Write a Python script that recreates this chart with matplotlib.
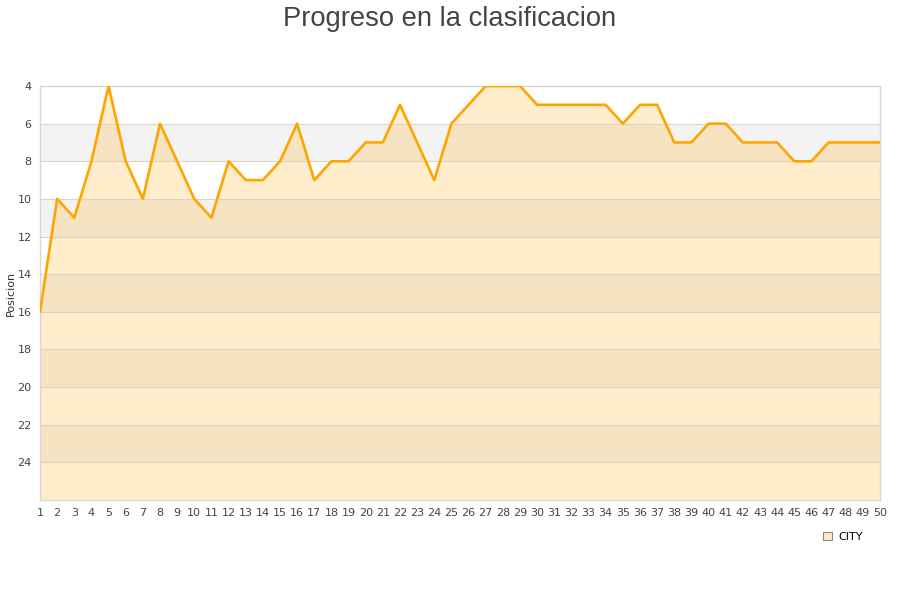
import matplotlib.pyplot as plt
import numpy as np

jornadas = list(range(1, 51))
posiciones = [16, 10, 11, 8, 4, 8, 10, 6, 8, 10,
              11, 8, 9, 9, 8, 6, 9, 8, 8, 7,
              7, 5, 7, 9, 6, 5, 4, 4, 4, 5,
              5, 5, 5, 5, 6, 5, 5, 7, 7, 6,
              6, 7, 7, 7, 8, 8, 7, 7, 7, 7]
y_ticks = list(range(4, 25, 2))
equipo = "CITY"

LINE_COLOR = "#ffa500"

fig = plt.figure(figsize=(9, 6), dpi=100)
ax = fig.add_axes([40 / 900, 100 / 600, 840 / 900, 414 / 600])

# alternating grey bands behind the plot
for i, lo in enumerate(range(4, 26, 2)):
    if i % 2 == 1:
        ax.axhspan(lo, lo + 2, color="#f3f3f3", zorder=0, lw=0)

ax.fill_between(jornadas, posiciones, 26, color=LINE_COLOR, alpha=0.2,
                lw=0, zorder=1)
ax.plot(jornadas, posiciones, color=LINE_COLOR, lw=1.9, zorder=3,
        label=equipo)

ax.set_xlim(1, 50)
ax.set_ylim(26, 4)
ax.set_xticks(jornadas)
ax.set_yticks(y_ticks)
ax.grid(axis="y", color="#e0d4bf", lw=0.8, zorder=2)
ax.set_axisbelow(False)
ax.tick_params(length=0, labelsize=8, colors="#444444", pad=6)
for spine in ax.spines.values():
    spine.set_color("#d8d8d8")
    spine.set_linewidth(1)

ax.set_ylabel("Posicion", fontsize=8, color="#333333")
ax.yaxis.set_label_coords(-0.029, 0.5)

fig.suptitle("Progreso en la clasificacion", fontsize=19.7, color="#444444",
             family="Liberation Sans", y=0.99)

handle = plt.Rectangle((0, 0), 1, 1, facecolor="#ffebcc", edgecolor="#888888",
                       lw=0.8)
fig.legend([handle], [equipo], loc="center", bbox_to_anchor=(843 / 900, 1 - 537 / 600),
           frameon=False, fontsize=8, handlelength=0.8, handleheight=0.8,
           handletextpad=0.6)

fig.savefig("out.png", dpi=100)
